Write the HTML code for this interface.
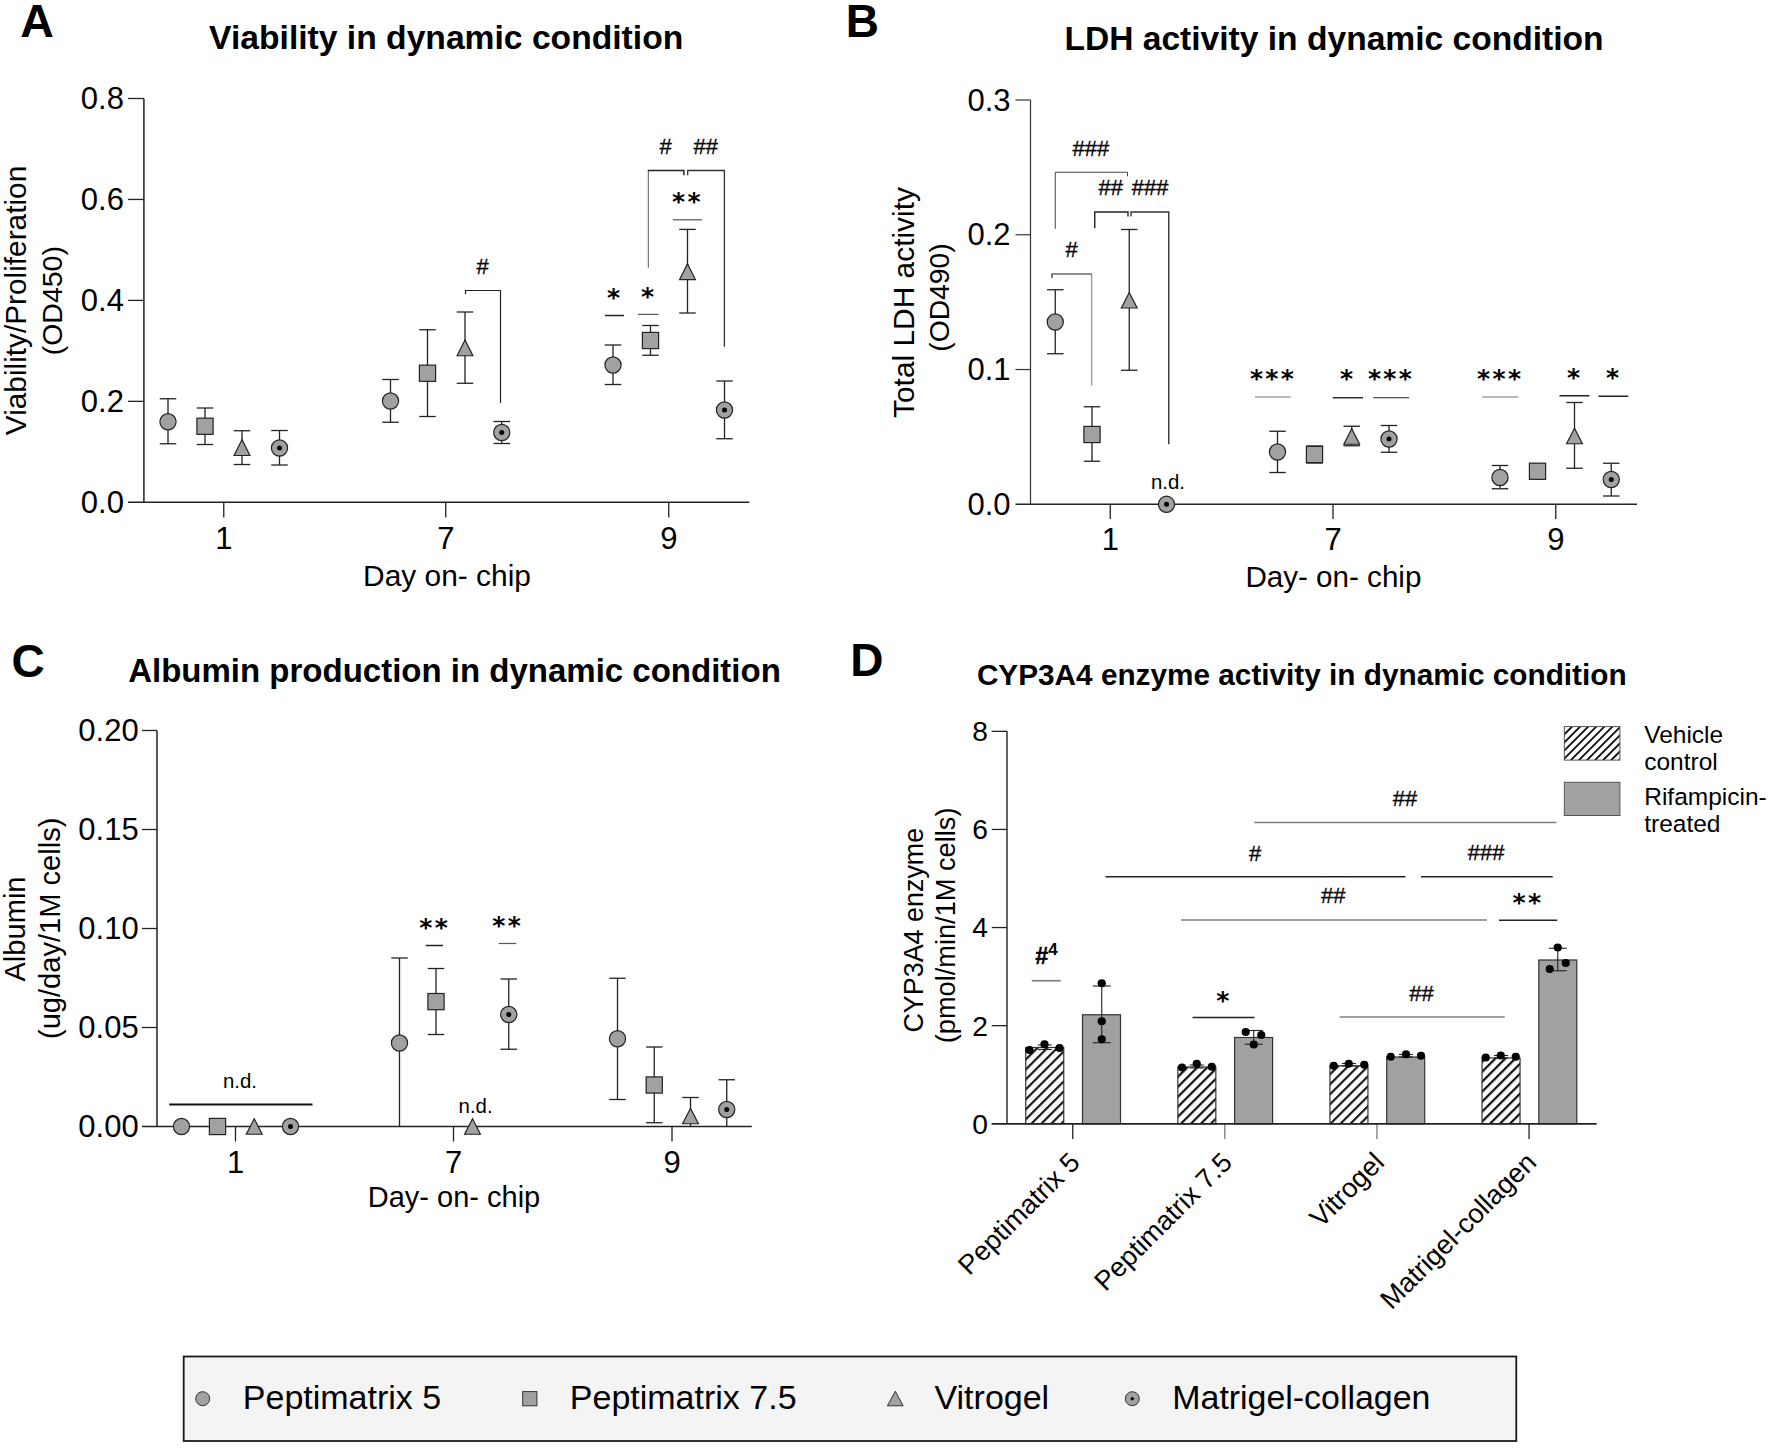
<!DOCTYPE html>
<html><head><meta charset="utf-8"><title>Figure</title>
<style>
html,body{margin:0;padding:0;background:#fff;}
svg{display:block;}
text{fill:#000;}
</style></head>
<body>
<svg width="1772" height="1448" viewBox="0 0 1772 1448">
<rect width="1772" height="1448" fill="#fff"/>
<defs>
<pattern id="hatch" patternUnits="userSpaceOnUse" width="7.05" height="7.05" patternTransform="rotate(-45)">
<rect x="0" y="0" width="7.05" height="2.15" fill="#111"/>
</pattern>
<pattern id="hatch2" patternUnits="userSpaceOnUse" width="5.7" height="5.7" patternTransform="rotate(-45)">
<rect x="0" y="0" width="5.7" height="1.9" fill="#111"/>
</pattern>
</defs>
<path d="M143.9,98.5 V502.3" fill="none" stroke="#222" stroke-width="1.5"/>
<line x1="128" y1="502.3" x2="749.3" y2="502.3" stroke="#222" stroke-width="1.5"/>
<text x="123.9" y="513.0" font-size="31" text-anchor="end" font-weight="normal" font-family="'Liberation Sans', sans-serif" >0.0</text>
<line x1="128" y1="401.35" x2="143.9" y2="401.35" stroke="#222" stroke-width="1.3"/>
<text x="123.9" y="412.05" font-size="31" text-anchor="end" font-weight="normal" font-family="'Liberation Sans', sans-serif" >0.2</text>
<line x1="128" y1="300.4" x2="143.9" y2="300.4" stroke="#222" stroke-width="1.3"/>
<text x="123.9" y="311.09999999999997" font-size="31" text-anchor="end" font-weight="normal" font-family="'Liberation Sans', sans-serif" >0.4</text>
<line x1="128" y1="199.45" x2="143.9" y2="199.45" stroke="#222" stroke-width="1.3"/>
<text x="123.9" y="210.14999999999998" font-size="31" text-anchor="end" font-weight="normal" font-family="'Liberation Sans', sans-serif" >0.6</text>
<line x1="128" y1="98.5" x2="143.9" y2="98.5" stroke="#222" stroke-width="1.3"/>
<text x="123.9" y="109.2" font-size="31" text-anchor="end" font-weight="normal" font-family="'Liberation Sans', sans-serif" >0.8</text>
<line x1="223.75" y1="502.3" x2="223.75" y2="517.5" stroke="#222" stroke-width="1.3"/>
<text x="223.75" y="548.6" font-size="31" text-anchor="middle" font-weight="normal" font-family="'Liberation Sans', sans-serif" >1</text>
<line x1="445.75" y1="502.3" x2="445.75" y2="517.5" stroke="#222" stroke-width="1.3"/>
<text x="445.75" y="548.6" font-size="31" text-anchor="middle" font-weight="normal" font-family="'Liberation Sans', sans-serif" >7</text>
<line x1="668.75" y1="502.3" x2="668.75" y2="517.5" stroke="#222" stroke-width="1.3"/>
<text x="668.75" y="548.6" font-size="31" text-anchor="middle" font-weight="normal" font-family="'Liberation Sans', sans-serif" >9</text>
<text x="447" y="585.5" font-size="29.9" text-anchor="middle" font-weight="normal" font-family="'Liberation Sans', sans-serif" >Day on- chip</text>
<text transform="translate(26.3,300.5) rotate(-90)" font-size="29.8" text-anchor="middle" font-family="'Liberation Sans', sans-serif">Viability/Proliferation</text>
<text transform="translate(61.5,300.7) rotate(-90)" font-size="28.5" text-anchor="middle" font-family="'Liberation Sans', sans-serif">(OD450)</text>
<text x="446.2" y="49" font-size="33.65" text-anchor="middle" font-weight="bold" font-family="'Liberation Sans', sans-serif" >Viability in dynamic condition</text>
<text x="20.3" y="37.1" font-size="46.5" text-anchor="start" font-weight="bold" font-family="'Liberation Sans', sans-serif" >A</text>
<line x1="168" y1="398.75" x2="168" y2="443.75" stroke="#222" stroke-width="1.3"/>
<line x1="159.75" y1="398.75" x2="176.25" y2="398.75" stroke="#222" stroke-width="1.3"/>
<line x1="159.75" y1="443.75" x2="176.25" y2="443.75" stroke="#222" stroke-width="1.3"/>
<circle cx="168" cy="421.75" r="8.1" fill="#a1a1a4" stroke="#222" stroke-width="1.2"/>
<line x1="205" y1="408" x2="205" y2="444.5" stroke="#222" stroke-width="1.3"/>
<line x1="196.75" y1="408" x2="213.25" y2="408" stroke="#222" stroke-width="1.3"/>
<line x1="196.75" y1="444.5" x2="213.25" y2="444.5" stroke="#222" stroke-width="1.3"/>
<rect x="196.9" y="418.15" width="16.2" height="16.2" fill="#a1a1a4" stroke="#222" stroke-width="1.2"/>
<line x1="242" y1="430.75" x2="242" y2="464.5" stroke="#222" stroke-width="1.3"/>
<line x1="233.75" y1="430.75" x2="250.25" y2="430.75" stroke="#222" stroke-width="1.3"/>
<line x1="233.75" y1="464.5" x2="250.25" y2="464.5" stroke="#222" stroke-width="1.3"/>
<path d="M242,439.5 L249.9,455.5 L234.1,455.5 Z" fill="#a1a1a4" stroke="#222" stroke-width="1.2" stroke-linejoin="miter"/>
<line x1="279.5" y1="430.5" x2="279.5" y2="465" stroke="#222" stroke-width="1.3"/>
<line x1="271.25" y1="430.5" x2="287.75" y2="430.5" stroke="#222" stroke-width="1.3"/>
<line x1="271.25" y1="465" x2="287.75" y2="465" stroke="#222" stroke-width="1.3"/>
<circle cx="279.5" cy="448" r="8.1" fill="#a1a1a4" stroke="#222" stroke-width="1.2"/>
<circle cx="279.5" cy="448" r="2.5" fill="#000"/>
<line x1="390.5" y1="379.5" x2="390.5" y2="422.25" stroke="#222" stroke-width="1.3"/>
<line x1="382.25" y1="379.5" x2="398.75" y2="379.5" stroke="#222" stroke-width="1.3"/>
<line x1="382.25" y1="422.25" x2="398.75" y2="422.25" stroke="#222" stroke-width="1.3"/>
<circle cx="390.5" cy="401" r="8.1" fill="#a1a1a4" stroke="#222" stroke-width="1.2"/>
<line x1="427.5" y1="329.75" x2="427.5" y2="416.5" stroke="#222" stroke-width="1.3"/>
<line x1="419.25" y1="329.75" x2="435.75" y2="329.75" stroke="#222" stroke-width="1.3"/>
<line x1="419.25" y1="416.5" x2="435.75" y2="416.5" stroke="#222" stroke-width="1.3"/>
<rect x="419.4" y="365.15" width="16.2" height="16.2" fill="#a1a1a4" stroke="#222" stroke-width="1.2"/>
<line x1="465" y1="312" x2="465" y2="383.25" stroke="#222" stroke-width="1.3"/>
<line x1="456.75" y1="312" x2="473.25" y2="312" stroke="#222" stroke-width="1.3"/>
<line x1="456.75" y1="383.25" x2="473.25" y2="383.25" stroke="#222" stroke-width="1.3"/>
<path d="M465,340 L472.9,355.75 L457.1,355.75 Z" fill="#a1a1a4" stroke="#222" stroke-width="1.2" stroke-linejoin="miter"/>
<line x1="501.75" y1="421.5" x2="501.75" y2="443.5" stroke="#222" stroke-width="1.3"/>
<line x1="493.5" y1="421.5" x2="510.0" y2="421.5" stroke="#222" stroke-width="1.3"/>
<line x1="493.5" y1="443.5" x2="510.0" y2="443.5" stroke="#222" stroke-width="1.3"/>
<circle cx="501.75" cy="432.5" r="8.1" fill="#a1a1a4" stroke="#222" stroke-width="1.2"/>
<circle cx="501.75" cy="432.5" r="2.5" fill="#000"/>
<line x1="613" y1="345" x2="613" y2="384.5" stroke="#222" stroke-width="1.3"/>
<line x1="604.75" y1="345" x2="621.25" y2="345" stroke="#222" stroke-width="1.3"/>
<line x1="604.75" y1="384.5" x2="621.25" y2="384.5" stroke="#222" stroke-width="1.3"/>
<circle cx="613" cy="365" r="8.1" fill="#a1a1a4" stroke="#222" stroke-width="1.2"/>
<line x1="650.5" y1="325.5" x2="650.5" y2="355.25" stroke="#222" stroke-width="1.3"/>
<line x1="642.25" y1="325.5" x2="658.75" y2="325.5" stroke="#222" stroke-width="1.3"/>
<line x1="642.25" y1="355.25" x2="658.75" y2="355.25" stroke="#222" stroke-width="1.3"/>
<rect x="642.4" y="332.4" width="16.2" height="16.2" fill="#a1a1a4" stroke="#222" stroke-width="1.2"/>
<line x1="687.5" y1="229.4" x2="687.5" y2="313" stroke="#222" stroke-width="1.3"/>
<line x1="679.25" y1="229.4" x2="695.75" y2="229.4" stroke="#222" stroke-width="1.3"/>
<line x1="679.25" y1="313" x2="695.75" y2="313" stroke="#222" stroke-width="1.3"/>
<path d="M687.5,263.7 L695.4,279.6 L679.6,279.6 Z" fill="#a1a1a4" stroke="#222" stroke-width="1.2" stroke-linejoin="miter"/>
<line x1="724.5" y1="381" x2="724.5" y2="438.75" stroke="#222" stroke-width="1.3"/>
<line x1="716.25" y1="381" x2="732.75" y2="381" stroke="#222" stroke-width="1.3"/>
<line x1="716.25" y1="438.75" x2="732.75" y2="438.75" stroke="#222" stroke-width="1.3"/>
<circle cx="724.5" cy="410" r="8.1" fill="#a1a1a4" stroke="#222" stroke-width="1.2"/>
<circle cx="724.5" cy="410" r="2.5" fill="#000"/>
<text x="482.5" y="274.2" font-size="22" text-anchor="middle" font-weight="normal" font-family="'Liberation Sans', sans-serif" stroke="#000" stroke-width="0.3">#</text>
<path d="M465.5,294.3 V290.5 H500.5 V403" fill="none" stroke="#222" stroke-width="1.2"/>
<text x="613.6" y="305.5" font-size="25" text-anchor="middle" font-weight="bold" font-family="'DejaVu Sans', 'Liberation Sans', sans-serif" >*</text>
<text x="647.6" y="304.8" font-size="25" text-anchor="middle" font-weight="bold" font-family="'DejaVu Sans', 'Liberation Sans', sans-serif" >*</text>
<text x="687.5" y="210.2" font-size="25" text-anchor="middle" font-weight="bold" font-family="'DejaVu Sans', 'Liberation Sans', sans-serif" letter-spacing="2.4">**</text>
<line x1="604.9" y1="315.5" x2="624.1" y2="315.5" stroke="#222" stroke-width="1.5"/>
<line x1="638" y1="314.4" x2="658.6" y2="314.4" stroke="#555" stroke-width="1.2"/>
<line x1="672.9" y1="219.8" x2="701.9" y2="219.8" stroke="#555" stroke-width="1.2"/>
<text x="665.6" y="154.2" font-size="22" text-anchor="middle" font-weight="normal" font-family="'Liberation Sans', sans-serif" stroke="#000" stroke-width="0.3">#</text>
<text x="705.7" y="154.2" font-size="22" text-anchor="middle" font-weight="normal" font-family="'Liberation Sans', sans-serif" stroke="#000" stroke-width="0.3">##</text>
<path d="M648.3,267.7 V170.5" fill="none" stroke="#555" stroke-width="1.0"/>
<path d="M647.8,170.5 H683.9 V175.2" fill="none" stroke="#222" stroke-width="1.5"/>
<path d="M687.7,175.2 V170.5 H724.4 V346.75" fill="none" stroke="#333" stroke-width="1.3"/>
<path d="M1030.5,99.98999999999995 V504.3" fill="none" stroke="#333" stroke-width="1.2"/>
<line x1="1015.5" y1="504.3" x2="1637" y2="504.3" stroke="#222" stroke-width="1.5"/>
<text x="1010.6" y="515.0" font-size="31" text-anchor="end" font-weight="normal" font-family="'Liberation Sans', sans-serif" >0.0</text>
<line x1="1015.5" y1="369.53" x2="1030.5" y2="369.53" stroke="#333" stroke-width="1.2"/>
<text x="1010.6" y="380.22999999999996" font-size="31" text-anchor="end" font-weight="normal" font-family="'Liberation Sans', sans-serif" >0.1</text>
<line x1="1015.5" y1="234.76" x2="1030.5" y2="234.76" stroke="#333" stroke-width="1.2"/>
<text x="1010.6" y="245.45999999999998" font-size="31" text-anchor="end" font-weight="normal" font-family="'Liberation Sans', sans-serif" >0.2</text>
<line x1="1015.5" y1="99.98999999999995" x2="1030.5" y2="99.98999999999995" stroke="#333" stroke-width="1.2"/>
<text x="1010.6" y="110.68999999999996" font-size="31" text-anchor="end" font-weight="normal" font-family="'Liberation Sans', sans-serif" >0.3</text>
<line x1="1110.25" y1="504.3" x2="1110.25" y2="519" stroke="#222" stroke-width="1.3"/>
<text x="1110.25" y="550.2" font-size="31" text-anchor="middle" font-weight="normal" font-family="'Liberation Sans', sans-serif" >1</text>
<line x1="1333" y1="504.3" x2="1333" y2="519" stroke="#222" stroke-width="1.3"/>
<text x="1333" y="550.2" font-size="31" text-anchor="middle" font-weight="normal" font-family="'Liberation Sans', sans-serif" >7</text>
<line x1="1555.75" y1="504.3" x2="1555.75" y2="519" stroke="#222" stroke-width="1.3"/>
<text x="1555.75" y="550.2" font-size="31" text-anchor="middle" font-weight="normal" font-family="'Liberation Sans', sans-serif" >9</text>
<text x="1333.4" y="587" font-size="29.6" text-anchor="middle" font-weight="normal" font-family="'Liberation Sans', sans-serif" >Day- on- chip</text>
<text transform="translate(913.5,302.5) rotate(-90)" font-size="29.9" text-anchor="middle" font-family="'Liberation Sans', sans-serif">Total LDH activity</text>
<text transform="translate(949.3,297.5) rotate(-90)" font-size="28.3" text-anchor="middle" font-family="'Liberation Sans', sans-serif">(OD490)</text>
<text x="1334" y="49.8" font-size="33.6" text-anchor="middle" font-weight="bold" font-family="'Liberation Sans', sans-serif" >LDH activity in dynamic condition</text>
<text x="845.8" y="36.9" font-size="46" text-anchor="start" font-weight="bold" font-family="'Liberation Sans', sans-serif" >B</text>
<line x1="1055.25" y1="289.75" x2="1055.25" y2="353.75" stroke="#222" stroke-width="1.3"/>
<line x1="1047.0" y1="289.75" x2="1063.5" y2="289.75" stroke="#222" stroke-width="1.3"/>
<line x1="1047.0" y1="353.75" x2="1063.5" y2="353.75" stroke="#222" stroke-width="1.3"/>
<circle cx="1055.25" cy="322" r="8.1" fill="#a1a1a4" stroke="#222" stroke-width="1.2"/>
<line x1="1092" y1="406.75" x2="1092" y2="461.25" stroke="#222" stroke-width="1.3"/>
<line x1="1083.75" y1="406.75" x2="1100.25" y2="406.75" stroke="#222" stroke-width="1.3"/>
<line x1="1083.75" y1="461.25" x2="1100.25" y2="461.25" stroke="#222" stroke-width="1.3"/>
<rect x="1083.9" y="426.4" width="16.2" height="16.2" fill="#a1a1a4" stroke="#222" stroke-width="1.2"/>
<line x1="1129.25" y1="229.5" x2="1129.25" y2="370.25" stroke="#222" stroke-width="1.3"/>
<line x1="1121.0" y1="229.5" x2="1137.5" y2="229.5" stroke="#222" stroke-width="1.3"/>
<line x1="1121.0" y1="370.25" x2="1137.5" y2="370.25" stroke="#222" stroke-width="1.3"/>
<path d="M1129.25,292.5 L1137.15,308 L1121.35,308 Z" fill="#a1a1a4" stroke="#222" stroke-width="1.2" stroke-linejoin="miter"/>
<circle cx="1166.5" cy="504.3" r="8.1" fill="#a1a1a4" stroke="#222" stroke-width="1.2"/>
<circle cx="1166.5" cy="504.3" r="2.5" fill="#000"/>
<line x1="1277.5" y1="431.25" x2="1277.5" y2="472.5" stroke="#222" stroke-width="1.3"/>
<line x1="1269.25" y1="431.25" x2="1285.75" y2="431.25" stroke="#222" stroke-width="1.3"/>
<line x1="1269.25" y1="472.5" x2="1285.75" y2="472.5" stroke="#222" stroke-width="1.3"/>
<circle cx="1277.5" cy="452" r="8.1" fill="#a1a1a4" stroke="#222" stroke-width="1.2"/>
<line x1="1314.5" y1="446" x2="1314.5" y2="463" stroke="#222" stroke-width="1.3"/>
<line x1="1306.25" y1="446" x2="1322.75" y2="446" stroke="#222" stroke-width="1.3"/>
<line x1="1306.25" y1="463" x2="1322.75" y2="463" stroke="#222" stroke-width="1.3"/>
<rect x="1306.4" y="446.4" width="16.2" height="16.2" fill="#a1a1a4" stroke="#222" stroke-width="1.2"/>
<line x1="1351.75" y1="426.25" x2="1351.75" y2="445.75" stroke="#222" stroke-width="1.3"/>
<line x1="1343.5" y1="426.25" x2="1360.0" y2="426.25" stroke="#222" stroke-width="1.3"/>
<line x1="1343.5" y1="445.75" x2="1360.0" y2="445.75" stroke="#222" stroke-width="1.3"/>
<path d="M1351.75,428.75 L1359.65,444.25 L1343.85,444.25 Z" fill="#a1a1a4" stroke="#222" stroke-width="1.2" stroke-linejoin="miter"/>
<line x1="1389" y1="425.5" x2="1389" y2="452.25" stroke="#222" stroke-width="1.3"/>
<line x1="1380.75" y1="425.5" x2="1397.25" y2="425.5" stroke="#222" stroke-width="1.3"/>
<line x1="1380.75" y1="452.25" x2="1397.25" y2="452.25" stroke="#222" stroke-width="1.3"/>
<circle cx="1389" cy="439" r="8.1" fill="#a1a1a4" stroke="#222" stroke-width="1.2"/>
<circle cx="1389" cy="439" r="2.5" fill="#000"/>
<line x1="1500" y1="465.5" x2="1500" y2="488.75" stroke="#222" stroke-width="1.3"/>
<line x1="1491.75" y1="465.5" x2="1508.25" y2="465.5" stroke="#222" stroke-width="1.3"/>
<line x1="1491.75" y1="488.75" x2="1508.25" y2="488.75" stroke="#222" stroke-width="1.3"/>
<circle cx="1500" cy="477.5" r="8.1" fill="#a1a1a4" stroke="#222" stroke-width="1.2"/>
<rect x="1529.4" y="463.15" width="16.2" height="16.2" fill="#a1a1a4" stroke="#222" stroke-width="1.2"/>
<line x1="1574.5" y1="402.5" x2="1574.5" y2="468.25" stroke="#222" stroke-width="1.3"/>
<line x1="1566.25" y1="402.5" x2="1582.75" y2="402.5" stroke="#222" stroke-width="1.3"/>
<line x1="1566.25" y1="468.25" x2="1582.75" y2="468.25" stroke="#222" stroke-width="1.3"/>
<path d="M1574.5,428.25 L1582.4,443.75 L1566.6,443.75 Z" fill="#a1a1a4" stroke="#222" stroke-width="1.2" stroke-linejoin="miter"/>
<line x1="1611.25" y1="463.25" x2="1611.25" y2="496" stroke="#222" stroke-width="1.3"/>
<line x1="1603.0" y1="463.25" x2="1619.5" y2="463.25" stroke="#222" stroke-width="1.3"/>
<line x1="1603.0" y1="496" x2="1619.5" y2="496" stroke="#222" stroke-width="1.3"/>
<circle cx="1611.25" cy="479.5" r="8.1" fill="#a1a1a4" stroke="#222" stroke-width="1.2"/>
<circle cx="1611.25" cy="479.5" r="2.5" fill="#000"/>
<text x="1090.9" y="155.5" font-size="22" text-anchor="middle" font-weight="normal" font-family="'Liberation Sans', sans-serif" stroke="#000" stroke-width="0.3">###</text>
<path d="M1055.25,228.75 V172.25 H1127.5 V176.25" fill="none" stroke="#444" stroke-width="1.0"/>
<text x="1110.75" y="195" font-size="22" text-anchor="middle" font-weight="normal" font-family="'Liberation Sans', sans-serif" stroke="#000" stroke-width="0.3">##</text>
<text x="1150.1" y="195" font-size="22" text-anchor="middle" font-weight="normal" font-family="'Liberation Sans', sans-serif" stroke="#000" stroke-width="0.3">###</text>
<path d="M1094.75,228.25 V212 H1128 V216.5" fill="none" stroke="#222" stroke-width="1.4"/>
<path d="M1131,216.5 V212 H1168.75 V444.25" fill="none" stroke="#333" stroke-width="1.4"/>
<text x="1071.5" y="257" font-size="22" text-anchor="middle" font-weight="normal" font-family="'Liberation Sans', sans-serif" stroke="#000" stroke-width="0.3">#</text>
<path d="M1052,278 V274 H1091.75" fill="none" stroke="#222" stroke-width="1.2"/>
<path d="M1091.75,274 V385.5" fill="none" stroke="#666" stroke-width="0.9"/>
<text x="1273.1" y="386.75" font-size="25" text-anchor="middle" font-weight="bold" font-family="'DejaVu Sans', 'Liberation Sans', sans-serif" letter-spacing="2.4">***</text>
<line x1="1254.75" y1="397" x2="1290.75" y2="397" stroke="#777" stroke-width="1.2"/>
<text x="1346.6" y="386.75" font-size="25" text-anchor="middle" font-weight="bold" font-family="'DejaVu Sans', 'Liberation Sans', sans-serif" >*</text>
<line x1="1332.75" y1="397.75" x2="1363" y2="397.75" stroke="#222" stroke-width="1.4"/>
<text x="1391.1" y="386.75" font-size="25" text-anchor="middle" font-weight="bold" font-family="'DejaVu Sans', 'Liberation Sans', sans-serif" letter-spacing="2.4">***</text>
<line x1="1373.25" y1="397.75" x2="1409" y2="397.75" stroke="#222" stroke-width="1.1"/>
<text x="1500.2" y="386.75" font-size="25" text-anchor="middle" font-weight="bold" font-family="'DejaVu Sans', 'Liberation Sans', sans-serif" letter-spacing="2.4">***</text>
<line x1="1482" y1="397" x2="1518.25" y2="397" stroke="#777" stroke-width="1.2"/>
<text x="1573.6" y="385.5" font-size="25" text-anchor="middle" font-weight="bold" font-family="'DejaVu Sans', 'Liberation Sans', sans-serif" >*</text>
<line x1="1559.5" y1="395.75" x2="1589.5" y2="395.75" stroke="#222" stroke-width="1.5"/>
<text x="1612.6" y="385.5" font-size="25" text-anchor="middle" font-weight="bold" font-family="'DejaVu Sans', 'Liberation Sans', sans-serif" >*</text>
<line x1="1598.5" y1="396.25" x2="1628.25" y2="396.25" stroke="#222" stroke-width="1.5"/>
<text x="1168" y="488.75" font-size="20.4" text-anchor="middle" font-weight="normal" font-family="'Liberation Sans', sans-serif" >n.d.</text>
<path d="M157,730.5 V1126.5" fill="none" stroke="#222" stroke-width="1.5"/>
<line x1="142" y1="1126.5" x2="751.75" y2="1126.5" stroke="#222" stroke-width="1.5"/>
<text x="138.7" y="1137.0" font-size="31" text-anchor="end" font-weight="normal" font-family="'Liberation Sans', sans-serif" >0.00</text>
<line x1="142" y1="1027.5" x2="157" y2="1027.5" stroke="#222" stroke-width="1.3"/>
<text x="138.7" y="1038.0" font-size="31" text-anchor="end" font-weight="normal" font-family="'Liberation Sans', sans-serif" >0.05</text>
<line x1="142" y1="928.5" x2="157" y2="928.5" stroke="#222" stroke-width="1.3"/>
<text x="138.7" y="939.0" font-size="31" text-anchor="end" font-weight="normal" font-family="'Liberation Sans', sans-serif" >0.10</text>
<line x1="142" y1="829.5" x2="157" y2="829.5" stroke="#222" stroke-width="1.3"/>
<text x="138.7" y="840.0" font-size="31" text-anchor="end" font-weight="normal" font-family="'Liberation Sans', sans-serif" >0.15</text>
<line x1="142" y1="730.5" x2="157" y2="730.5" stroke="#222" stroke-width="1.3"/>
<text x="138.7" y="741.0" font-size="31" text-anchor="end" font-weight="normal" font-family="'Liberation Sans', sans-serif" >0.20</text>
<line x1="235.5" y1="1126.5" x2="235.5" y2="1141.5" stroke="#222" stroke-width="1.3"/>
<text x="235.5" y="1172.5" font-size="31" text-anchor="middle" font-weight="normal" font-family="'Liberation Sans', sans-serif" >1</text>
<line x1="453.5" y1="1126.5" x2="453.5" y2="1141.5" stroke="#222" stroke-width="1.3"/>
<text x="453.5" y="1172.5" font-size="31" text-anchor="middle" font-weight="normal" font-family="'Liberation Sans', sans-serif" >7</text>
<line x1="672" y1="1126.5" x2="672" y2="1141.5" stroke="#222" stroke-width="1.3"/>
<text x="672" y="1172.5" font-size="31" text-anchor="middle" font-weight="normal" font-family="'Liberation Sans', sans-serif" >9</text>
<text x="454" y="1207" font-size="29" text-anchor="middle" font-weight="normal" font-family="'Liberation Sans', sans-serif" >Day- on- chip</text>
<text transform="translate(24.6,929) rotate(-90)" font-size="29.1" text-anchor="middle" font-family="'Liberation Sans', sans-serif">Albumin</text>
<text transform="translate(59.6,928.3) rotate(-90)" font-size="29.1" text-anchor="middle" font-family="'Liberation Sans', sans-serif">(ug/day/1M cells)</text>
<text x="454.5" y="681.8" font-size="33.0" text-anchor="middle" font-weight="bold" font-family="'Liberation Sans', sans-serif" >Albumin production in dynamic condition</text>
<text x="11.6" y="676.9" font-size="46" text-anchor="start" font-weight="bold" font-family="'Liberation Sans', sans-serif" >C</text>
<circle cx="181.5" cy="1126.5" r="8.1" fill="#a1a1a4" stroke="#222" stroke-width="1.2"/>
<rect x="209.4" y="1118.4" width="16.2" height="16.2" fill="#a1a1a4" stroke="#222" stroke-width="1.2"/>
<path d="M254.25,1118.75 L262.15,1134.25 L246.35,1134.25 Z" fill="#a1a1a4" stroke="#222" stroke-width="1.2" stroke-linejoin="miter"/>
<circle cx="290.5" cy="1126.5" r="8.1" fill="#a1a1a4" stroke="#222" stroke-width="1.2"/>
<circle cx="290.5" cy="1126.5" r="2.5" fill="#000"/>
<line x1="399.5" y1="958" x2="399.5" y2="1126.5" stroke="#222" stroke-width="1.3"/>
<line x1="391.25" y1="958" x2="407.75" y2="958" stroke="#222" stroke-width="1.3"/>
<circle cx="399.5" cy="1043" r="8.1" fill="#a1a1a4" stroke="#222" stroke-width="1.2"/>
<line x1="436" y1="968.5" x2="436" y2="1034.5" stroke="#222" stroke-width="1.3"/>
<line x1="427.75" y1="968.5" x2="444.25" y2="968.5" stroke="#222" stroke-width="1.3"/>
<line x1="427.75" y1="1034.5" x2="444.25" y2="1034.5" stroke="#222" stroke-width="1.3"/>
<rect x="427.9" y="993.5" width="16.2" height="16.2" fill="#a1a1a4" stroke="#222" stroke-width="1.2"/>
<path d="M472.5,1118.75 L480.4,1134.25 L464.6,1134.25 Z" fill="#a1a1a4" stroke="#222" stroke-width="1.2" stroke-linejoin="miter"/>
<line x1="508.75" y1="979" x2="508.75" y2="1049.25" stroke="#222" stroke-width="1.3"/>
<line x1="500.5" y1="979" x2="517.0" y2="979" stroke="#222" stroke-width="1.3"/>
<line x1="500.5" y1="1049.25" x2="517.0" y2="1049.25" stroke="#222" stroke-width="1.3"/>
<circle cx="508.75" cy="1014.5" r="8.1" fill="#a1a1a4" stroke="#222" stroke-width="1.2"/>
<circle cx="508.75" cy="1014.5" r="2.5" fill="#000"/>
<line x1="617.5" y1="978.25" x2="617.5" y2="1099.5" stroke="#222" stroke-width="1.3"/>
<line x1="609.25" y1="978.25" x2="625.75" y2="978.25" stroke="#222" stroke-width="1.3"/>
<line x1="609.25" y1="1099.5" x2="625.75" y2="1099.5" stroke="#222" stroke-width="1.3"/>
<circle cx="617.5" cy="1038.75" r="8.1" fill="#a1a1a4" stroke="#222" stroke-width="1.2"/>
<line x1="654.25" y1="1047" x2="654.25" y2="1122.75" stroke="#222" stroke-width="1.3"/>
<line x1="646.0" y1="1047" x2="662.5" y2="1047" stroke="#222" stroke-width="1.3"/>
<line x1="646.0" y1="1122.75" x2="662.5" y2="1122.75" stroke="#222" stroke-width="1.3"/>
<rect x="646.15" y="1076.9" width="16.2" height="16.2" fill="#a1a1a4" stroke="#222" stroke-width="1.2"/>
<line x1="690.5" y1="1097.5" x2="690.5" y2="1126.5" stroke="#222" stroke-width="1.3"/>
<line x1="682.25" y1="1097.5" x2="698.75" y2="1097.5" stroke="#222" stroke-width="1.3"/>
<path d="M690.5,1108.25 L698.4,1123.75 L682.6,1123.75 Z" fill="#a1a1a4" stroke="#222" stroke-width="1.2" stroke-linejoin="miter"/>
<line x1="726.75" y1="1079.75" x2="726.75" y2="1126.5" stroke="#222" stroke-width="1.3"/>
<line x1="718.5" y1="1079.75" x2="735.0" y2="1079.75" stroke="#222" stroke-width="1.3"/>
<circle cx="726.75" cy="1109.5" r="8.1" fill="#a1a1a4" stroke="#222" stroke-width="1.2"/>
<circle cx="726.75" cy="1109.5" r="2.5" fill="#000"/>
<text x="240" y="1087.5" font-size="20.4" text-anchor="middle" font-weight="normal" font-family="'Liberation Sans', sans-serif" >n.d.</text>
<line x1="169.25" y1="1104.5" x2="312.5" y2="1104.5" stroke="#111" stroke-width="1.8"/>
<text x="434.7" y="936.0" font-size="25" text-anchor="middle" font-weight="bold" font-family="'DejaVu Sans', 'Liberation Sans', sans-serif" letter-spacing="2.4">**</text>
<line x1="425.75" y1="945.5" x2="443" y2="945.5" stroke="#222" stroke-width="1.5"/>
<text x="507.8" y="934.25" font-size="25" text-anchor="middle" font-weight="bold" font-family="'DejaVu Sans', 'Liberation Sans', sans-serif" letter-spacing="2.4">**</text>
<line x1="498.75" y1="943.5" x2="516.25" y2="943.5" stroke="#555" stroke-width="1.2"/>
<text x="475.6" y="1113" font-size="20.4" text-anchor="middle" font-weight="normal" font-family="'Liberation Sans', sans-serif" >n.d.</text>
<path d="M1007,731.35 V1123.75" fill="none" stroke="#222" stroke-width="1.4"/>
<line x1="991.75" y1="1123.75" x2="1596.5" y2="1123.75" stroke="#222" stroke-width="1.5"/>
<text x="987.9" y="1133.65" font-size="28.2" text-anchor="end" font-weight="normal" font-family="'Liberation Sans', sans-serif" >0</text>
<line x1="991.75" y1="1025.65" x2="1007" y2="1025.65" stroke="#222" stroke-width="1.3"/>
<text x="987.9" y="1035.5500000000002" font-size="28.2" text-anchor="end" font-weight="normal" font-family="'Liberation Sans', sans-serif" >2</text>
<line x1="991.75" y1="927.55" x2="1007" y2="927.55" stroke="#222" stroke-width="1.3"/>
<text x="987.9" y="937.4499999999999" font-size="28.2" text-anchor="end" font-weight="normal" font-family="'Liberation Sans', sans-serif" >4</text>
<line x1="991.75" y1="829.45" x2="1007" y2="829.45" stroke="#222" stroke-width="1.3"/>
<text x="987.9" y="839.35" font-size="28.2" text-anchor="end" font-weight="normal" font-family="'Liberation Sans', sans-serif" >6</text>
<line x1="991.75" y1="731.35" x2="1007" y2="731.35" stroke="#222" stroke-width="1.3"/>
<text x="987.9" y="741.25" font-size="28.2" text-anchor="end" font-weight="normal" font-family="'Liberation Sans', sans-serif" >8</text>
<line x1="1072.75" y1="1123.75" x2="1072.75" y2="1139" stroke="#222" stroke-width="1.3"/>
<text transform="translate(1081.55,1164) rotate(-45)" font-size="27.2" text-anchor="end" font-family="'Liberation Sans', sans-serif">Peptimatrix 5</text>
<line x1="1224.85" y1="1123.75" x2="1224.85" y2="1139" stroke="#555" stroke-width="1.0"/>
<text transform="translate(1233.6499999999999,1164) rotate(-45)" font-size="27.2" text-anchor="end" font-family="'Liberation Sans', sans-serif">Peptimatrix 7.5</text>
<line x1="1376.95" y1="1123.75" x2="1376.95" y2="1139" stroke="#555" stroke-width="1.0"/>
<text transform="translate(1385.75,1164) rotate(-45)" font-size="27.2" text-anchor="end" font-family="'Liberation Sans', sans-serif">Vitrogel</text>
<line x1="1529.05" y1="1123.75" x2="1529.05" y2="1139" stroke="#222" stroke-width="1.3"/>
<text transform="translate(1537.85,1164) rotate(-45)" font-size="27.2" text-anchor="end" font-family="'Liberation Sans', sans-serif">Matrigel-collagen</text>
<rect x="1025.75" y="1047.5" width="38" height="76.25" fill="url(#hatch)" stroke="#333" stroke-width="1.2"/>
<rect x="1082.5" y="1014.75" width="38" height="109.0" fill="#a1a1a4" stroke="#333" stroke-width="1.2"/>
<rect x="1177.85" y="1067" width="38" height="56.75" fill="url(#hatch)" stroke="#333" stroke-width="1.2"/>
<rect x="1234.6" y="1037.5" width="38" height="86.25" fill="#a1a1a4" stroke="#333" stroke-width="1.2"/>
<rect x="1329.95" y="1065.75" width="38" height="58.0" fill="url(#hatch)" stroke="#333" stroke-width="1.2"/>
<rect x="1386.7" y="1057" width="38" height="66.75" fill="#a1a1a4" stroke="#333" stroke-width="1.2"/>
<rect x="1482.05" y="1058" width="38" height="65.75" fill="url(#hatch)" stroke="#333" stroke-width="1.2"/>
<rect x="1538.8" y="960" width="38" height="163.75" fill="#a1a1a4" stroke="#333" stroke-width="1.2"/>
<line x1="991.75" y1="1123.75" x2="1596.5" y2="1123.75" stroke="#222" stroke-width="1.5"/>
<line x1="1044.75" y1="1045" x2="1044.75" y2="1049.5" stroke="#222" stroke-width="1.1"/>
<line x1="1037.75" y1="1045" x2="1051.75" y2="1045" stroke="#222" stroke-width="1.1"/>
<line x1="1037.75" y1="1049.5" x2="1051.75" y2="1049.5" stroke="#222" stroke-width="1.1"/>
<circle cx="1029.5" cy="1050" r="4.1" fill="#000"/>
<circle cx="1044.5" cy="1044.25" r="4.1" fill="#000"/>
<circle cx="1059.5" cy="1048" r="4.1" fill="#000"/>
<line x1="1101.75" y1="986" x2="1101.75" y2="1042.75" stroke="#222" stroke-width="1.1"/>
<line x1="1092.75" y1="986" x2="1110.75" y2="986" stroke="#222" stroke-width="1.1"/>
<line x1="1092.75" y1="1042.75" x2="1110.75" y2="1042.75" stroke="#222" stroke-width="1.1"/>
<circle cx="1101.75" cy="983.25" r="4.1" fill="#000"/>
<circle cx="1101.75" cy="1021.25" r="4.1" fill="#000"/>
<circle cx="1101.75" cy="1039.25" r="4.1" fill="#000"/>
<line x1="1196.75" y1="1065" x2="1196.75" y2="1068" stroke="#222" stroke-width="1.1"/>
<line x1="1189.75" y1="1065" x2="1203.75" y2="1065" stroke="#222" stroke-width="1.1"/>
<line x1="1189.75" y1="1068" x2="1203.75" y2="1068" stroke="#222" stroke-width="1.1"/>
<circle cx="1182" cy="1067.5" r="4.1" fill="#000"/>
<circle cx="1196.75" cy="1063.75" r="4.1" fill="#000"/>
<circle cx="1211.75" cy="1066.75" r="4.1" fill="#000"/>
<line x1="1253.75" y1="1030.5" x2="1253.75" y2="1044.25" stroke="#222" stroke-width="1.1"/>
<line x1="1244.75" y1="1030.5" x2="1262.75" y2="1030.5" stroke="#222" stroke-width="1.1"/>
<line x1="1244.75" y1="1044.25" x2="1262.75" y2="1044.25" stroke="#222" stroke-width="1.1"/>
<circle cx="1245.75" cy="1032" r="4.1" fill="#000"/>
<circle cx="1261.25" cy="1035" r="4.1" fill="#000"/>
<circle cx="1253.75" cy="1044.5" r="4.1" fill="#000"/>
<line x1="1348.9" y1="1063.5" x2="1348.9" y2="1066" stroke="#222" stroke-width="1.1"/>
<line x1="1341.9" y1="1063.5" x2="1355.9" y2="1063.5" stroke="#222" stroke-width="1.1"/>
<line x1="1341.9" y1="1066" x2="1355.9" y2="1066" stroke="#222" stroke-width="1.1"/>
<circle cx="1333.75" cy="1065.75" r="4.1" fill="#000"/>
<circle cx="1348.75" cy="1063.75" r="4.1" fill="#000"/>
<circle cx="1364.25" cy="1064.75" r="4.1" fill="#000"/>
<line x1="1405.9" y1="1054.5" x2="1405.9" y2="1057" stroke="#222" stroke-width="1.1"/>
<line x1="1398.9" y1="1054.5" x2="1412.9" y2="1054.5" stroke="#222" stroke-width="1.1"/>
<line x1="1398.9" y1="1057" x2="1412.9" y2="1057" stroke="#222" stroke-width="1.1"/>
<circle cx="1390.75" cy="1056.75" r="4.1" fill="#000"/>
<circle cx="1406" cy="1054.25" r="4.1" fill="#000"/>
<circle cx="1421" cy="1055.75" r="4.1" fill="#000"/>
<line x1="1501" y1="1055.5" x2="1501" y2="1057.8" stroke="#222" stroke-width="1.1"/>
<line x1="1494.0" y1="1055.5" x2="1508.0" y2="1055.5" stroke="#222" stroke-width="1.1"/>
<line x1="1494.0" y1="1057.8" x2="1508.0" y2="1057.8" stroke="#222" stroke-width="1.1"/>
<circle cx="1485.75" cy="1057.5" r="4.1" fill="#000"/>
<circle cx="1500.75" cy="1055.5" r="4.1" fill="#000"/>
<circle cx="1515.75" cy="1056.75" r="4.1" fill="#000"/>
<line x1="1557.75" y1="948.25" x2="1557.75" y2="970.75" stroke="#222" stroke-width="1.1"/>
<line x1="1548.75" y1="948.25" x2="1566.75" y2="948.25" stroke="#222" stroke-width="1.1"/>
<line x1="1548.75" y1="970.75" x2="1566.75" y2="970.75" stroke="#222" stroke-width="1.1"/>
<circle cx="1557.75" cy="947.5" r="4.1" fill="#000"/>
<circle cx="1565.75" cy="963" r="4.1" fill="#000"/>
<circle cx="1549.75" cy="969" r="4.1" fill="#000"/>
<text x="1301.75" y="684.6" font-size="29.75" text-anchor="middle" font-weight="bold" font-family="'Liberation Sans', sans-serif" >CYP3A4 enzyme activity in dynamic condition</text>
<text x="850.3" y="675.8" font-size="46" text-anchor="start" font-weight="bold" font-family="'Liberation Sans', sans-serif" >D</text>
<text transform="translate(923,930.2) rotate(-90)" font-size="26.9" text-anchor="middle" font-family="'Liberation Sans', sans-serif">CYP3A4 enzyme</text>
<text transform="translate(955,925.4) rotate(-90)" font-size="27.2" text-anchor="middle" font-family="'Liberation Sans', sans-serif">(pmol/min/1M cells)</text>
<rect x="1564.3" y="726.6" width="55.6" height="33.5" fill="url(#hatch2)" stroke="#555" stroke-width="1"/>
<rect x="1564.3" y="782.3" width="55.6" height="33.2" fill="#a1a1a4" stroke="#555" stroke-width="1"/>
<text x="1644.2" y="743" font-size="24.5" text-anchor="start" font-weight="normal" font-family="'Liberation Sans', sans-serif" >Vehicle</text>
<text x="1644.2" y="769.5" font-size="24.5" text-anchor="start" font-weight="normal" font-family="'Liberation Sans', sans-serif" >control</text>
<text x="1644.2" y="805" font-size="24.5" text-anchor="start" font-weight="normal" font-family="'Liberation Sans', sans-serif" >Rifampicin-</text>
<text x="1644.2" y="831.75" font-size="24.5" text-anchor="start" font-weight="normal" font-family="'Liberation Sans', sans-serif" >treated</text>
<text x="1405.1" y="806.25" font-size="22" text-anchor="middle" font-weight="normal" font-family="'Liberation Sans', sans-serif" stroke="#000" stroke-width="0.3">##</text>
<line x1="1254.25" y1="822.5" x2="1556.5" y2="822.5" stroke="#808080" stroke-width="1.7"/>
<text x="1255.1" y="860.5" font-size="22" text-anchor="middle" font-weight="normal" font-family="'Liberation Sans', sans-serif" stroke="#000" stroke-width="0.3">#</text>
<line x1="1105.5" y1="876.75" x2="1405.5" y2="876.75" stroke="#222" stroke-width="1.3"/>
<text x="1486.1" y="860" font-size="22" text-anchor="middle" font-weight="normal" font-family="'Liberation Sans', sans-serif" stroke="#000" stroke-width="0.3">###</text>
<line x1="1421" y1="876.75" x2="1552.75" y2="876.75" stroke="#222" stroke-width="1.3"/>
<text x="1333.2" y="903" font-size="22" text-anchor="middle" font-weight="normal" font-family="'Liberation Sans', sans-serif" stroke="#000" stroke-width="0.3">##</text>
<line x1="1181" y1="920" x2="1487" y2="920" stroke="#808080" stroke-width="1.7"/>
<text x="1528.1" y="911.0" font-size="25" text-anchor="middle" font-weight="bold" font-family="'DejaVu Sans', 'Liberation Sans', sans-serif" letter-spacing="2.4">**</text>
<line x1="1499" y1="920.25" x2="1557.25" y2="920.25" stroke="#222" stroke-width="1.4"/>
<text x="1421.5" y="1000.75" font-size="22" text-anchor="middle" font-weight="normal" font-family="'Liberation Sans', sans-serif" stroke="#000" stroke-width="0.3">##</text>
<line x1="1339.5" y1="1017" x2="1504.75" y2="1017" stroke="#808080" stroke-width="1.7"/>
<text x="1222.9" y="1009.25" font-size="25" text-anchor="middle" font-weight="bold" font-family="'DejaVu Sans', 'Liberation Sans', sans-serif" >*</text>
<line x1="1192.5" y1="1017.5" x2="1254.5" y2="1017.5" stroke="#222" stroke-width="1.5"/>
<text x="1035.2" y="963.85" font-size="23.4" text-anchor="start" font-weight="bold" font-family="'Liberation Sans', sans-serif" stroke="#000" stroke-width="0.4">#</text>
<text x="1048.2" y="954.7" font-size="17" text-anchor="start" font-weight="bold" font-family="'Liberation Sans', sans-serif" >4</text>
<line x1="1031.75" y1="980.75" x2="1060.75" y2="980.75" stroke="#808080" stroke-width="1.7"/>
<rect x="183.7" y="1356.5" width="1332.6" height="84.5" fill="#f4f4f4" stroke="#1a1a1a" stroke-width="1.8"/>
<circle cx="202.7" cy="1398.7" r="7" fill="#a1a1a4" stroke="#333" stroke-width="1"/>
<text x="242.8" y="1409" font-size="34" text-anchor="start" font-weight="normal" font-family="'Liberation Sans', sans-serif" >Peptimatrix 5</text>
<rect x="522.7" y="1391.6" width="14.2" height="14.2" fill="#a1a1a4" stroke="#333" stroke-width="1"/>
<text x="569.8" y="1409" font-size="34" text-anchor="start" font-weight="normal" font-family="'Liberation Sans', sans-serif" >Peptimatrix 7.5</text>
<path d="M895.3,1391.2 L903.2,1405.8 L887.4,1405.8 Z" fill="#a1a1a4" stroke="#333" stroke-width="1"/>
<text x="934.5" y="1409" font-size="34" text-anchor="start" font-weight="normal" font-family="'Liberation Sans', sans-serif" >Vitrogel</text>
<circle cx="1132.3" cy="1398.7" r="7" fill="#a1a1a4" stroke="#333" stroke-width="1"/>
<circle cx="1132.3" cy="1398.7" r="1.7" fill="#000"/>
<text x="1172.3" y="1409" font-size="33.9" text-anchor="start" font-weight="normal" font-family="'Liberation Sans', sans-serif" >Matrigel-collagen</text>
</svg>
</body></html>
